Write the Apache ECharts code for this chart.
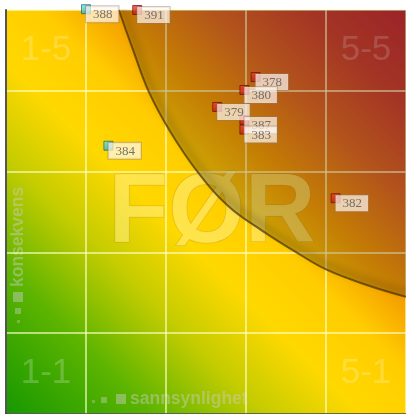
<!DOCTYPE html>
<html>
<head>
<meta charset="utf-8">
<script src="https://cdn.jsdelivr.net/npm/echarts@6/dist/echarts.min.js"></script>
<style>
html,body{margin:0;padding:0;background:#fff;}
#chart{width:406px;height:414px;}
</style>
</head>
<body>
<div id="chart"></div>
<script>
// ---- data ----
const pointIds     = ['388', '391', '384', '378', '380', '379', '387', '383', '382'];
const probability  = [1.00, 1.64, 1.28, 3.12, 2.98, 2.64, 2.98, 2.98, 4.12];
const consequence  = [5.01, 5.00, 3.32, 4.17, 4.01, 3.80, 3.64, 3.52, 2.67];
const pointKind    = ['cyan', 'red', 'cyan', 'red', 'red', 'red', 'red', 'red', 'red'];

const cornerText = ['1-5', '5-5', '1-1', '5-1'];
const cornerX    = [0.5, 4.5, 0.5, 4.5];
const cornerY    = [4.5, 4.5, 0.5, 0.5];

// boundary curve of the dark zone
const curveX = [1.41, 1.59, 1.78, 2.05, 2.40, 2.78, 3.20, 3.63, 4.00, 4.50, 5.00];
const curveY = [5.00, 4.50, 4.00, 3.50, 2.99, 2.57, 2.27, 2.00, 1.79, 1.60, 1.45];

const axisMin = 0, axisMax = 5, axisStep = 1;
const xName = 'sannsynlighet';
const yName = 'konsekvens';
const watermark = 'FØR';

const chart = echarts.init(document.getElementById('chart'), null, {renderer: 'canvas'});

const redFill = new echarts.graphic.LinearGradient(0, 0, 1, 1, [
  {offset: 0, color: '#ff4a30'}, {offset: 1, color: '#9a0000'}]);
const cyanFill = new echarts.graphic.LinearGradient(0, 0, 1, 1, [
  {offset: 0, color: '#7af0f4'}, {offset: 1, color: '#1a8c9c'}]);

const bgGradient = new echarts.graphic.LinearGradient(0, 1, 1, 0, [
  {offset: 0.00, color: '#169800'},
  {offset: 0.18, color: '#5cb400'},
  {offset: 0.32, color: '#c4cc00'},
  {offset: 0.44, color: '#ffd800'},
  {offset: 0.55, color: '#ffcc00'},
  {offset: 0.64, color: '#f49c00'},
  {offset: 0.76, color: '#dc6420'},
  {offset: 0.88, color: '#c83a2c'},
  {offset: 1.00, color: '#bc2430'}
]);

const option = {
  animation: false,
  grid: {left: 6, top: 10, width: 405, height: 405, containLabel: false},
  xAxis: {
    type: 'value', min: axisMin, max: axisMax, interval: axisStep, position: 'top', z: 3,
    axisLine: {show: true, lineStyle: {color: '#3a3a3a', width: 1.5}},
    axisTick: {show: false}, axisLabel: {show: false},
    splitLine: {show: true, lineStyle: {color: 'rgba(255,255,200,0.62)', width: 2}}
  },
  yAxis: {
    type: 'value', min: axisMin, max: axisMax, interval: axisStep, z: 3,
    axisLine: {show: true, lineStyle: {color: '#555', width: 2}},
    axisTick: {show: false}, axisLabel: {show: false},
    splitLine: {show: true, lineStyle: {color: 'rgba(255,255,200,0.62)', width: 2}}
  },
  graphic: {
    elements: [
      {
        type: 'text', z: 3, x: 212, y: 215,
        style: {
          text: watermark, font: 'bold 98px "Liberation Sans", Arial, sans-serif',
          fill: 'rgba(255,236,120,0.62)', textAlign: 'center', textVerticalAlign: 'middle',
          stroke: 'rgba(170,130,20,0.35)', lineWidth: 1,
          shadowColor: 'rgba(100,70,0,0.6)', shadowBlur: 4, shadowOffsetX: 2, shadowOffsetY: 3
        }
      },
      {
        type: 'text', z: 3, x: 130, y: 399,
        style: {
          text: xName, font: 'bold 17.5px "Liberation Sans", Arial, sans-serif',
          fill: 'rgba(205,205,205,0.45)', textAlign: 'left', textVerticalAlign: 'middle'
        }
      },
      {type: 'rect', z: 3, shape: {x: 116, y: 394, width: 10, height: 10}, style: {fill: 'rgba(205,205,205,0.45)'}},
      {type: 'rect', z: 3, shape: {x: 101, y: 397, width: 6, height: 6}, style: {fill: 'rgba(205,205,205,0.4)'}},
      {type: 'rect', z: 3, shape: {x: 92, y: 400, width: 3, height: 3}, style: {fill: 'rgba(205,205,205,0.35)'}},
      {
        type: 'text', z: 3, x: 18, y: 287, rotation: Math.PI / 2,
        style: {
          text: yName, font: 'bold 17.5px "Liberation Sans", Arial, sans-serif',
          fill: 'rgba(205,205,205,0.45)', textAlign: 'left', textVerticalAlign: 'middle'
        }
      },
      {type: 'rect', z: 3, shape: {x: 13, y: 292, width: 10, height: 10}, style: {fill: 'rgba(205,205,205,0.45)'}},
      {type: 'rect', z: 3, shape: {x: 15, y: 308, width: 6, height: 6}, style: {fill: 'rgba(205,205,205,0.4)'}},
      {type: 'rect', z: 3, shape: {x: 17, y: 320, width: 3, height: 3}, style: {fill: 'rgba(205,205,205,0.35)'}}
    ]
  },
  series: [
    {
      type: 'custom', z: 1, silent: true,
      data: [[axisMin, axisMin, axisMax, axisMax]],
      renderItem: function (params, api) {
        const p0 = api.coord([api.value(0), api.value(1)]);
        const p1 = api.coord([api.value(2), api.value(3)]);
        return {
          type: 'rect',
          shape: {x: p0[0], y: p1[1], width: p1[0] - p0[0], height: p0[1] - p1[1]},
          style: {fill: bgGradient}
        };
      }
    },
    {
      type: 'custom', z: 2, silent: true,
      data: cornerX.map((x, i) => [x, cornerY[i]]),
      renderItem: function (params, api) {
        const p = api.coord([api.value(0), api.value(1)]);
        return {
          type: 'text',
          style: {
            text: cornerText[params.dataIndex], x: p[0], y: p[1],
            font: '35px "Liberation Sans", Arial, sans-serif',
            fill: 'rgba(255,255,255,0.22)', textAlign: 'center', textVerticalAlign: 'middle'
          }
        };
      }
    },
    {
      type: 'line', z: 4, silent: true, smooth: 0.4, symbol: 'none',
      data: curveX.map((x, i) => [x, curveY[i]]),
      lineStyle: {
        color: 'rgba(60,42,5,0.65)', width: 2,
        shadowColor: 'rgba(40,25,0,0.75)', shadowBlur: 7, shadowOffsetX: 3, shadowOffsetY: -4
      },
      areaStyle: {origin: 'end', color: 'rgba(55,35,15,0.36)'}
    },
    {
      type: 'scatter', z: 5, clip: false, symbol: 'rect', symbolSize: 9,
      data: pointIds.map((id, i) => ({
        value: [probability[i], consequence[i]],
        name: id,
        itemStyle: {
          color: pointKind[i] === 'red' ? redFill : cyanFill,
          borderColor: pointKind[i] === 'red' ? 'rgba(90,0,0,0.8)' : 'rgba(10,90,100,0.8)',
          borderWidth: 1
        }
      })),
      label: {
        show: true, formatter: '{b}', position: [5, 2],
        align: 'left', verticalAlign: 'top',
        fontFamily: '"Liberation Serif", "DejaVu Serif", serif', fontSize: 13, color: '#555',
        backgroundColor: 'rgba(255,250,245,0.88)', borderColor: 'rgba(150,120,90,0.55)', borderWidth: 1,
        padding: [2, 6, 1, 7]
      }
    }
  ]
};
chart.setOption(option);
</script>
</body>
</html>
